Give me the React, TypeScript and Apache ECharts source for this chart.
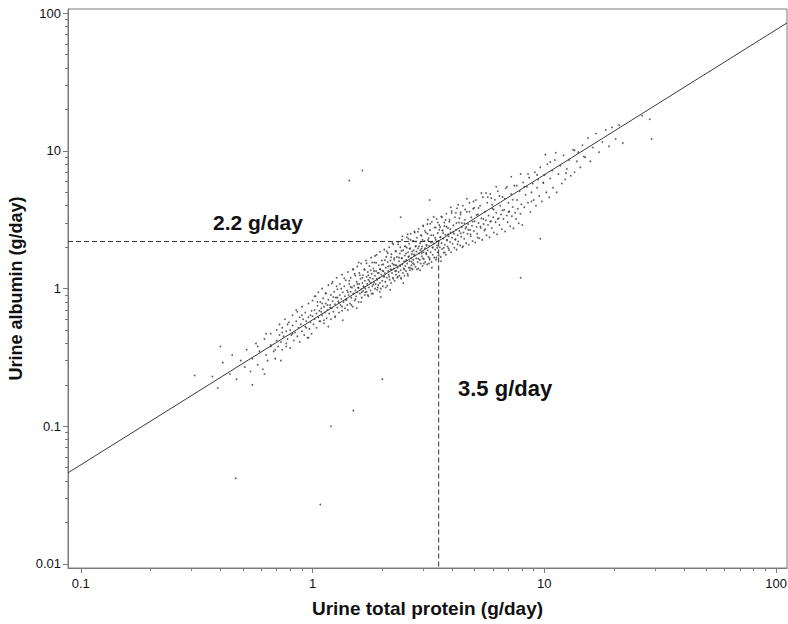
import React, { useEffect, useRef } from "react";
import * as echarts from "echarts";

// Axis ranges (g/day, log scale)
const X_MIN = 0.0881;
const X_MAX = 111.4;
const Y_MIN = 0.00935;
const Y_MAX = 107.4;

const X_MAJOR = [0.1, 1, 10, 100];
const X_MINOR = [0.2, 0.3, 0.4, 0.5, 0.6, 0.7, 0.8, 0.9, 2, 3, 4, 5, 6, 7, 8, 9, 20, 30, 40, 50, 60, 70, 80, 90];
const Y_MAJOR = [0.01, 0.1, 1, 10, 100];
const Y_MINOR = [0.02, 0.03, 0.04, 0.05, 0.06, 0.07, 0.08, 0.09, 0.2, 0.3, 0.4, 0.5, 0.6, 0.7, 0.8, 0.9, 2, 3, 4, 5, 6, 7, 8, 9, 20, 30, 40, 50, 60, 70, 80, 90];

// Regression line end points
const FIT_LINE = [[0.0881, 0.0459], [111.4, 85.1]];

// Threshold guides
const THRESH_PROTEIN = 3.5;
const THRESH_ALBUMIN = 2.2;

// Observed patients [total protein, albumin] (g/day), first batch
const PATIENTS_A: number[][] = [
  [0.37,0.23],[0.39,0.19],[0.41,0.29],[0.44,0.24],[0.45,0.33],[0.47,0.22],[0.49,0.3],[0.51,0.27],[0.52,0.36],[0.54,0.25],
  [0.55,0.31],[0.57,0.4],[0.58,0.28],[0.59,0.35],[0.61,0.26],[0.62,0.43],[0.63,0.33],[0.64,0.3],[0.66,0.39],[0.66,0.47],
  [0.68,0.35],[0.69,0.31],[0.7,0.42],[0.7,0.5],
  [0.71,0.38],[0.72,0.46],[0.72,0.55],[0.73,0.41],[0.74,0.36],[0.74,0.52],[0.75,0.45],[0.76,0.6],[0.77,0.4],[0.77,0.49],
  [0.78,0.43],[0.79,0.57],[0.8,0.37],[0.8,0.5],[0.81,0.46],[0.82,0.64],[0.82,0.54],[0.83,0.42],[0.84,0.48],[0.85,0.58],
  [0.85,0.7],[0.86,0.45],[0.87,0.52],[0.88,0.62],[0.88,0.41],[0.89,0.55],[0.9,0.49],[0.9,0.74],[0.91,0.6],[0.92,0.46],
  [0.93,0.53],[0.93,0.67],[0.94,0.58],[0.95,0.44],[0.96,0.78],[0.96,0.62],[0.97,0.51],[0.98,0.57],[0.99,0.69],[0.99,0.47],
  [1.0,0.63],[1.0,0.82],[1.01,0.55],[1.02,0.7],[1.02,0.6],[1.03,0.88],[1.04,0.66],[1.04,0.52],[1.05,0.75],[1.06,0.62],
  [1.06,0.94],[1.07,0.69],[1.08,0.58],[1.08,0.8],[1.09,0.72],[1.1,0.64],[1.1,1.0],[1.11,0.85],[1.12,0.56],[1.12,0.74],
  [1.13,0.67],[1.14,0.92],[1.14,0.78],[1.15,0.61],[1.16,0.7],[1.17,1.06],[1.17,0.83],[1.18,0.66],[1.19,0.76],[1.2,0.9],
  [1.2,0.6],[1.21,0.72],[1.22,1.12],[1.22,0.81],[1.23,0.68],[1.24,0.95],[1.25,0.77],[1.25,0.63],[1.26,0.86],[1.27,1.2],
  [1.28,0.73],[1.28,0.99],[1.29,0.81],[1.3,0.67],[1.31,0.9],[1.31,1.08],[1.32,0.76],[1.33,0.84],[1.34,0.69],[1.34,1.26],
  [1.35,0.94],[1.36,0.8],[1.37,1.04],[1.38,0.72],[1.38,0.88],[1.39,1.15],[1.4,0.83],[1.41,0.97],[1.42,0.7],[1.42,1.32],
  [1.43,0.9],[1.44,1.08],[1.45,0.78],[1.46,0.95],[1.46,1.2],[1.47,0.86],[1.48,1.02],[1.49,0.74],[1.5,1.38],[1.5,0.92],
  [1.51,1.05],[1.52,0.82],[1.53,1.24],[1.53,0.97],[1.54,0.88],[1.55,1.12],[1.56,1.45],[1.56,0.94],[1.57,1.02],[1.58,0.8],
  [1.59,1.3],[1.59,1.08],[1.6,0.92],[1.61,1.18],[1.62,0.99],[1.62,1.52],[1.63,0.86],[1.64,1.1],[1.65,1.25],[1.65,0.96],
  [1.66,1.04],[1.67,1.38],[1.68,0.9],[1.68,1.14],[1.69,1.0],[1.7,1.6],[1.71,1.22],[1.71,0.95],[1.72,1.08],[1.73,1.32],
  [1.74,0.88],[1.74,1.16],[1.75,1.02],[1.76,1.46],[1.77,1.2],[1.78,0.97],[1.78,1.1],[1.79,1.68],[1.8,1.28],[1.81,1.04],
  [1.82,1.18],[1.82,0.92],[1.83,1.4],[1.84,1.12],[1.85,1.55],[1.86,1.0],[1.86,1.24],[1.87,1.08],[1.88,1.34],[1.89,1.76],
  [1.9,1.16],[1.9,0.98],[1.91,1.3],[1.92,1.06],[1.93,1.48],[1.94,1.2],[1.95,1.1],[1.95,1.85],[1.96,1.38],[1.97,1.0],
  [1.98,1.26],[1.99,1.6],[2.0,1.14],[2.0,1.35],[2.01,1.04],[2.02,1.5],[2.03,1.22],[2.04,1.92],[2.05,1.3],[2.06,1.12],
  [2.07,1.42],[2.08,1.7],[2.09,1.2],[2.1,1.05],[2.11,1.56],[2.12,1.34],[2.13,1.26],[2.14,2.0],[2.15,1.16],[2.16,1.46],
  [2.17,1.38],[2.18,1.1],[2.19,1.78],[2.2,1.3],[2.21,1.52],[2.22,1.2],[2.23,2.1],[2.24,1.4],[2.25,1.62],[2.26,1.14],
  [2.27,1.34],[2.28,1.88],[2.29,1.26],[2.3,1.48],[2.31,1.7],[2.32,1.2],[2.33,1.42],[2.34,2.18],[2.35,1.32],[2.36,1.58],
  [2.37,1.24],[2.38,1.8],[2.39,1.46],[2.4,1.36],[2.41,1.18],[2.42,1.66],[2.43,2.26],[2.44,1.5],[2.45,1.3],[2.46,1.9],
  [2.47,1.4],[2.48,1.58],[2.49,1.24],[2.5,1.74],
  [2.51,1.46],[2.52,2.02],[2.53,1.34],[2.54,1.62],[2.55,2.36],[2.56,1.52],[2.57,1.28],[2.58,1.84],[2.59,1.7],[2.6,1.42],
  [2.61,2.12],[2.62,1.58],[2.63,1.36],[2.64,1.96],[2.65,2.5],[2.66,1.66],[2.67,1.48],[2.68,1.78],[2.7,1.38],[2.71,2.22],
  [2.72,1.62],[2.73,1.9],[2.74,1.5],[2.75,2.6],[2.76,1.74],[2.78,1.44],[2.79,2.04],[2.8,1.66],[2.81,1.86],[2.82,2.34],
  [2.84,1.56],[2.85,1.96],[2.86,1.4],[2.87,2.72],[2.88,1.8],[2.9,1.62],[2.91,2.14],[2.92,1.9],[2.93,1.52],[2.95,2.42],
  [2.96,1.72],[2.97,2.02],[2.98,1.46],[3.0,2.84],[3.01,1.84],[3.02,1.64],[3.04,2.22],[3.05,1.96],[3.06,1.56],[3.08,2.56],
  [3.09,1.78],[3.1,2.08],[3.12,1.5],[3.13,2.94],[3.14,1.9],[3.16,1.7],[3.17,2.32],[3.18,2.04],[3.2,1.62],[3.21,2.66],
  [3.23,1.84],[3.24,2.16],[3.26,1.56],[3.27,3.06],[3.29,1.98],[3.3,1.76],[3.32,2.44],[3.33,2.12],[3.35,1.68],[3.36,2.78],
  [3.38,1.92],[3.4,2.26],[3.41,1.62],[3.43,3.2],[3.44,2.06],[3.46,1.84],[3.47,2.54],[3.49,2.22],[3.5,1.74],[3.52,2.9],
  [3.54,2.0],[3.55,2.36],[3.57,1.7],[3.59,3.34],[3.6,2.14],[3.62,1.94],[3.64,2.64],[3.66,2.3],[3.68,1.82],[3.7,3.02],
  [3.72,2.08],[3.74,2.46],[3.76,1.76],[3.78,3.5],[3.8,2.24],[3.82,2.02],[3.84,2.76],[3.86,2.4],[3.88,1.9],[3.9,3.16],
  [3.92,2.18],[3.94,2.56],[3.96,1.84],[3.98,3.66],[4.0,2.34],[4.02,2.12],[4.05,2.88],[4.07,2.5],[4.09,1.98],[4.11,3.3],
  [4.14,2.28],[4.16,2.68],[4.18,1.92],[4.2,3.84],[4.23,2.44],[4.25,2.2],[4.28,3.02],[4.3,2.62],[4.33,2.06],[4.35,3.46],
  [4.38,2.38],[4.4,2.8],[4.43,2.0],[4.45,4.0],[4.48,2.56],
  [4.51,2.3],[4.54,3.16],[4.57,2.74],[4.6,2.14],[4.63,3.62],[4.66,2.5],[4.69,2.94],[4.72,2.08],[4.75,4.2],[4.78,2.68],
  [4.81,2.4],[4.84,3.3],[4.87,2.86],[4.9,2.22],[4.93,3.8],[4.96,2.62],[5.0,3.08],[5.03,2.16],[5.06,4.4],[5.1,2.8],
  [5.13,2.5],[5.17,3.46],[5.2,3.0],[5.24,2.32],[5.28,4.0],[5.31,2.76],[5.35,3.24],[5.39,2.26],[5.43,4.62],[5.47,2.94],
  [5.51,2.64],[5.55,3.62],[5.59,3.14],[5.63,2.44],[5.67,4.2],[5.71,2.9],[5.75,3.4],[5.8,2.36],[5.84,4.86],[5.88,3.08],
  [5.93,2.76],[5.97,3.8],[6.02,3.3],[6.06,2.56],[6.11,4.42],[6.16,3.04],[6.2,3.56],[6.25,2.48],[6.3,5.1],[6.35,3.24],
  [6.4,2.9],[6.45,4.0],[6.5,3.46],[6.55,2.7],[6.6,4.64],[6.66,3.2],[6.71,3.74],[6.77,2.6],[6.82,5.36],[6.88,3.4],
  [6.94,3.04],[7.0,4.2],[7.06,3.64],[7.12,2.84],[7.18,4.86],[7.24,3.36],[7.3,3.92],[7.36,2.74],[7.42,5.6],[7.48,3.56],
  [7.55,3.2],[7.62,4.4],[7.68,3.8],[7.75,2.98],[7.82,5.1],[7.89,3.5],[7.96,4.1],[8.03,2.9],[8.1,5.9],
  [8.2,3.9],[8.3,4.8],[8.4,5.5],[8.5,4.2],[8.6,6.4],[8.7,3.6],[8.8,5.0],[8.9,5.8],[9.0,4.4],[9.1,7.0],
  [9.2,4.0],[9.3,5.4],[9.4,6.2],[9.5,4.7],[9.6,7.6],[9.75,4.3],[9.9,5.9],[10.0,6.7],[10.2,5.0],[10.3,8.0],
  [10.5,4.6],[10.6,6.3],[10.8,7.2],[10.9,5.4],[11.1,8.6],[11.3,5.0],[11.5,6.8],[11.7,7.8],[11.9,5.8],[12.1,9.3],
  [12.3,6.2],[12.5,7.4],[12.8,8.6],[13.0,6.6],[13.3,10.2],[13.5,7.0],[13.8,8.4],[14.0,9.8],
  [14.3,7.6],[14.6,11.0],[15.0,9.0],[15.4,12.4],[15.8,8.4],[16.2,10.6],[16.7,13.4],[17.2,9.8],[17.8,11.6],[18.4,14.2],
  [19.0,10.8],[19.6,14.8],[20.3,12.2],[21.0,15.4],[21.8,11.4],
  [0.31,0.234],[0.466,0.042],[1.08,0.027],[1.2,0.1],[1.5,0.13],[2.0,0.22],[1.64,7.2],[1.44,6.1],[26.4,18],[28.5,17],
  [29,12.2],[9.6,2.3],[7.9,1.2],[0.4,0.38],[0.55,0.2],[0.73,0.3],[0.62,0.24],[2.4,3.3],[3.2,4.4]
];

// Observed patients, second batch
const PATIENTS_B: number[][] = [
  [1.37,1.19],[2.91,1.36],[1.74,1.25],[4.63,4.5],[0.86,0.68],[3.27,1.42],[2.18,1.69],[5.84,3.08],[1.12,0.59],[2.57,2.48],
  [6.9,5.5],[1.95,0.95],[3.66,2.53],[0.94,0.52],[4.12,2.27],[1.58,1.55],[2.74,1.77],[8.8,4.3],[1.28,0.86],[3.05,2.63],
  [2.33,1.22],[5.2,3.85],[0.78,0.55],[1.83,1.07],[4.45,2.03],[2.09,1.87],[3.89,3.06],[1.47,0.76],[7.3,4.42],[2.62,1.95],
  [1.05,0.8],[3.45,1.98],[1.66,1.03],[6.2,5.5],[2.46,1.1],[4.9,3.07],[1.21,1.09],[3.15,2.25],[2.02,1.34],[0.69,0.36],
  [5.55,2.7],[2.85,2.59],[1.39,0.83],[3.72,1.83],[10.6,8.3],[2.27,1.48],[1.88,1.54],[4.3,3.24],[0.98,0.64],[2.68,1.4],
  [3.33,3.32],[1.53,0.84],[7.9,6.8],[2.14,1.22],[5.95,4.07],[1.17,0.53],[3.98,3.54],[2.52,1.58],[1.71,1.53],[4.7,2.67],
  [2.96,1.81],[12.4,6.9],[1.33,1.0],[3.52,2.68],[2.39,2.0],[6.6,3.7],[0.82,0.47],[1.99,1.49],[3.2,1.66],[5.35,4.94],
  [1.62,0.8],[2.79,2.2],[4.05,2.59],[1.09,0.68],[2.21,2.14],[9.3,6.7],[3.58,1.58],[1.44,1.14],[2.49,1.38],[4.55,3.75],
  [1.91,1.02],[3.1,2.05],[0.74,0.48],[2.65,2.26],[6.05,3.75],[1.56,1.08],[3.8,2.26],[2.36,1.68],[1.25,0.62],[4.25,4.07],
  [2.07,1.02],[3.4,2.78],[8.2,5.5],[1.78,1.36],[2.99,1.66],[1.02,0.88],[5.7,4.63],[2.43,1.66],[3.62,3.3],[1.35,0.59],
  [2.88,2.03],[4.8,2.48],[1.69,0.94],[3.25,2.44],[2.11,1.81],[7.0,3.6],[0.9,0.64],[2.58,1.24],[3.93,2.7],[1.49,1.38],
  [5.1,3.43],[2.3,1.35],[1.14,0.93],[3.0,2.87],[2.71,1.53],[4.4,3.0],[1.8,0.92],[11.2,9.7],[2.55,1.98],[3.5,2.22],
  [1.6,1.25],[6.4,4.7],[2.16,0.98],[3.75,3.15],[1.3,0.79],[4.95,4.3],[2.41,1.2],[1.93,1.3],[3.3,2.0],[0.63,0.47],
  [2.82,1.38],[5.45,3.2],[1.42,0.94],[3.13,2.5],[2.25,1.67],[7.6,5.6],[1.86,1.73],[3.68,1.98],[2.61,1.72],[1.07,0.58],
  [4.18,3.0],[2.04,1.23],[3.86,1.96],[1.52,1.28],[2.93,2.45],[9.9,5.85],[1.23,0.87],[2.76,2.56],[4.6,2.8],[1.73,0.9],
  [3.38,2.34],[2.19,1.37],[5.9,4.54],[0.77,0.38],[2.5,2.03],[3.55,2.8],[1.97,0.87],[4.22,2.1],[1.64,1.2],[3.18,1.52],
  [2.34,2.1],[6.75,4.5],[1.19,0.73],[2.67,1.57],[3.95,3.9],[1.41,0.76],[2.98,2.26],[14.8,9.1],[2.12,1.45],[4.52,2.98],
  [1.76,1.13],[3.63,2.64],[2.44,2.4],[0.96,0.44],[5.3,2.83],[2.86,1.65],[1.55,0.72],[3.47,3.02],[2.23,1.18],[8.5,6.8],
  [1.84,1.34],[3.09,1.81],[2.59,2.3],[4.36,2.52],[1.27,1.04],[2.05,1.61],[3.78,2.82],[1.63,0.94],[6.3,3.2],[2.78,2.02],
  [0.58,0.38],[3.22,2.96],[2.38,1.47],[4.75,3.62],[1.89,1.18],[13.5,10.1],[2.69,1.86],[3.42,1.68],[1.46,1.03],[5.6,4.95],
  [2.29,1.86],[3.84,2.48],[1.1,0.78],[2.95,1.95],[7.2,6.5],[2.53,1.8],[4.15,3.56],[1.81,1.55],[3.28,2.19],[0.66,0.38],
  [2.17,1.6],[3.57,2.37],[1.58,1.01],[10.1,9.4],[2.63,1.42],[4.98,3.86],[1.34,0.74],[3.14,3.17],[2.42,1.88],[5.15,2.35],
  [1.95,1.39],[3.7,2.85],[2.72,2.22],[1.16,0.76],[4.35,3.58],[2.24,1.49],[3.02,1.52],[1.68,1.37]
];

const L = (v: number) => Math.log10(v);
const LABELS: Record<string, string> = { "-2": "0.01", "-1": "0.1", "0": "1", "1": "10", "2": "100" };
const fmt = (v: number) => LABELS[String(Math.round(v))] ?? "";

const AXIS_GRAY = "#7a7a7a";
const FONT = "Liberation Sans, Arial, sans-serif";

export default function App() {
  const ref = useRef<HTMLDivElement>(null);
  useEffect(() => {
    if (!ref.current) return;
    const chart = echarts.init(ref.current, null, { renderer: "svg" });
    const xMin = L(X_MIN), xMax = L(X_MAX), yMin = L(Y_MIN), yMax = L(Y_MAX);
    const baseX = (extra: any) => ({
      type: "value",
      min: xMin,
      max: xMax,
      position: "bottom",
      splitLine: { show: false },
      ...extra,
    });
    const baseY = (extra: any) => ({
      type: "value",
      min: yMin,
      max: yMax,
      position: "left",
      splitLine: { show: false },
      ...extra,
    });
    const points = PATIENTS_A.concat(PATIENTS_B).map(([x, y]) => [L(x), L(y)]);
    const option: any = {
      animation: false,
      backgroundColor: "#ffffff",
      textStyle: { fontFamily: FONT },
      grid: {
        left: 68, right: 1, top: 9, bottom: 56,
        show: true, borderColor: AXIS_GRAY, borderWidth: 1,
        outerBoundsMode: "none",
      },
      xAxis: [
        baseX({
          name: "Urine total protein (g/day)",
          nameLocation: "middle",
          nameGap: 31,
          nameTextStyle: { fontSize: 19, fontWeight: "bold", color: "#111", fontFamily: FONT },
          axisLine: { show: true, onZero: false, lineStyle: { color: AXIS_GRAY, width: 1 } },
          axisTick: { show: true, length: 5, customValues: X_MAJOR.map(L), lineStyle: { color: AXIS_GRAY } },
          axisLabel: { customValues: X_MAJOR.map(L), formatter: fmt, color: "#111", fontSize: 13, margin: 9, fontFamily: FONT },
        }),
        baseX({
          axisLine: { show: false, onZero: false },
          axisTick: { show: true, length: 3, customValues: X_MINOR.map(L), lineStyle: { color: AXIS_GRAY } },
          axisLabel: { show: true, customValues: X_MINOR.map(L), formatter: () => "" },
        }),
      ],
      yAxis: [
        baseY({
          name: "Urine albumin (g/day)",
          nameLocation: "middle",
          nameGap: 39,
          nameTextStyle: { fontSize: 18, fontWeight: "bold", color: "#111", fontFamily: FONT },
          axisLine: { show: true, onZero: false, lineStyle: { color: AXIS_GRAY, width: 1 } },
          axisTick: { show: true, length: 5, customValues: Y_MAJOR.map(L), lineStyle: { color: AXIS_GRAY } },
          axisLabel: { customValues: Y_MAJOR.map(L), formatter: fmt, color: "#111", fontSize: 13, margin: 7, fontFamily: FONT },
        }),
        baseY({
          axisLine: { show: false, onZero: false },
          axisTick: { show: true, length: 3, customValues: Y_MINOR.map(L), lineStyle: { color: AXIS_GRAY } },
          axisLabel: { show: true, customValues: Y_MINOR.map(L), formatter: () => "" },
        }),
      ],
      series: [
        {
          type: "scatter",
          data: points,
          symbol: "circle",
          symbolSize: 1.8,
          itemStyle: { color: "#3a3a3a" },
          silent: true,
        },
        {
          type: "line",
          data: FIT_LINE.map(([x, y]) => [L(x), L(y)]),
          symbol: "none",
          lineStyle: { color: "#3a3a3a", width: 1 },
          silent: true,
        },
        {
          type: "line",
          data: [[xMin, L(THRESH_ALBUMIN)], [L(THRESH_PROTEIN), L(THRESH_ALBUMIN)]],
          symbol: "none",
          lineStyle: { color: "#333", width: 1, type: [5, 3] },
          silent: true,
        },
        {
          type: "line",
          data: [[L(THRESH_PROTEIN), L(THRESH_ALBUMIN)], [L(THRESH_PROTEIN), yMin]],
          symbol: "none",
          lineStyle: { color: "#333", width: 1, type: [5, 3] },
          silent: true,
        },
      ],
      graphic: [
        {
          type: "text", left: 213, top: 212,
          style: { text: `${THRESH_ALBUMIN} g/day`, font: `bold 21px ${FONT}`, fill: "#111" },
        },
        {
          type: "text", left: 458, top: 377,
          style: { text: `${THRESH_PROTEIN} g/day`, font: `bold 22px ${FONT}`, fill: "#111" },
        },
      ],
    };
    chart.setOption(option);
    return () => chart.dispose();
  }, []);
  return (
    <div
      ref={ref}
      style={{ position: "absolute", left: 0, top: 0, width: 788, height: 624 }}
    />
  );
}
